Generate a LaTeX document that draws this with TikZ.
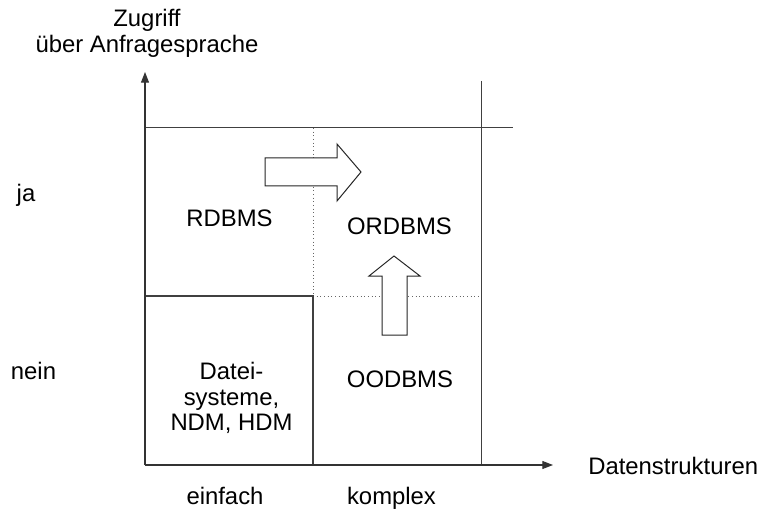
\documentclass[tikz,border=0pt]{standalone}
\usepackage{fontspec}
\setmainfont{Liberation Sans}
\usetikzlibrary{arrows.meta}
\begin{document}
\begin{tikzpicture}[x=0.75pt,y=-0.75pt,
  lbl/.style={inner sep=0pt,anchor=base,font=\fontsize{17.9}{19.5}\selectfont,align=center},
  grid/.style={line width=0.75pt,draw=black!75},
  dotgrid/.style={line width=0.75pt,draw=black!60,dotted},
  axis/.style={line width=0.8pt,draw=black!80,-{Triangle[length=8pt,width=6pt]}},
  blockarrow/.style={line width=0.75pt,draw=black!85,fill=white}]
\useasboundingbox (0,0) rectangle (758,510);

% corner points of the grid
\coordinate (O) at (145,465);
\coordinate (ytip) at (145,72);
\coordinate (xtip) at (553,465);
\coordinate (topL) at (145,128);
\coordinate (topR) at (513,128);
\coordinate (rT) at (481,81);
\coordinate (rB) at (481,465);
\coordinate (mT) at (313,128);
\coordinate (mM) at (313,296);
\coordinate (mB) at (313,465);
\coordinate (lM) at (145,296);
\coordinate (rM) at (481,296);

% grid lines
\draw[grid] (topL) -- (topR);
\draw[grid] (rT) -- (rB);
\draw[dotgrid] (mT) -- (mM);
\draw[dotgrid] (mM) -- (rM);
\draw[grid,line width=0.85pt] (lM) -- (mM) -- (mB);
\draw[grid,line width=1.1pt] (O) -- (mB);

% axes
\draw[axis] (O) -- (ytip);
\draw[axis] (O) -- (xtip);

% block arrows
\draw[blockarrow] (265,158) -- (337,158) -- (337,144) -- (361,172) -- (337,201)
  -- (337,186) -- (265,186) -- cycle;
\draw[blockarrow] (382,335) -- (382,276) -- (369,276) -- (394,256) -- (420,276)
  -- (407,276) -- (407,335) -- cycle;

% labels
\node[lbl] (zugriff) at (147,27) {Zugriff};
\node[lbl] (anfrage) at (147,53) {über Anfragesprache};
\node[lbl] (ja) at (26,201) {ja};
\node[lbl] (nein) at (33.5,379) {nein};
\node[lbl] (rdbms) at (229.5,227) {RDBMS};
\node[lbl] (ordbms) at (399.5,234) {ORDBMS};
\node[lbl] (oodbms) at (400,387) {OODBMS};
\node[lbl] (datei1) at (231.5,379) {Datei-};
\node[lbl] (datei2) at (231.5,405) {systeme,};
\node[lbl] (datei3) at (231.5,430) {NDM, HDM};
\node[lbl] (einfach) at (225,504) {einfach};
\node[lbl] (komplex) at (391.5,504) {komplex};
\node[lbl,anchor=base west] (daten) at (588,474) {Datenstrukturen};
\end{tikzpicture}
\end{document}
